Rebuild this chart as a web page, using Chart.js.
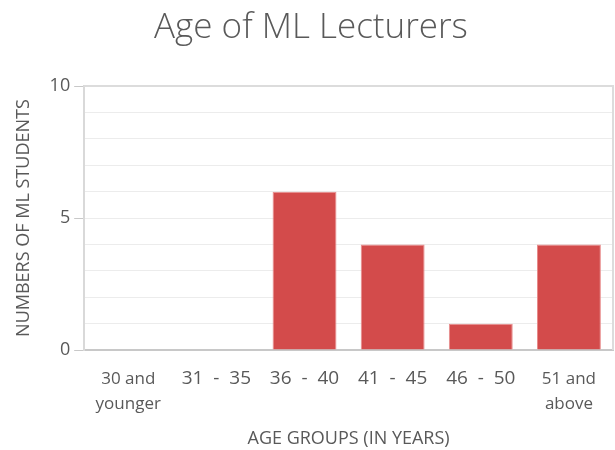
<!DOCTYPE html>
<html>
<head>
<meta charset="utf-8">
<script src="https://cdn.jsdelivr.net/npm/chart.js@4"></script>
<style>
  html, body { margin: 0; padding: 0; background: #fff; }
  #wrap { width: 615px; height: 450px; }
</style>
</head>
<body>
<div id="wrap"><canvas id="ageChart"></canvas></div>
<script>
// datos
const categories = [['30 and', 'younger'], '31  -  35', '36  -  40', '41  -  45', '46  -  50', ['51 and', 'above']];
const lecturers = [0, 0, 6, 4, 1, 4];
const yTickLabels = [0, 5, 10];

const grey = '#595959';
const fontFam = "'Open Sans', 'Liberation Sans', sans-serif";

// marco gris alrededor del area de la grafica
const frame = {
    id: 'frame',
    beforeDatasetsDraw(chart) {
        const a = chart.chartArea;
        const c = chart.ctx;
        c.save();
        c.strokeStyle = '#dcdcdc';
        c.lineWidth = 2;
        c.beginPath();
        c.moveTo(a.left, a.top);
        c.lineTo(a.right, a.top);
        c.lineTo(a.right, a.bottom);
        c.stroke();
        c.restore();
    }
};

const ctx = document.getElementById('ageChart').getContext('2d');
new Chart(ctx, {
    type: 'bar',
    data: {
        labels: categories,
        datasets: [{
            data: lecturers,
            backgroundColor: 'rgb(211, 75, 75)',
            borderColor: 'rgb(232, 140, 140)',
            borderWidth: 1,
            barPercentage: 0.725,
            categoryPercentage: 1
        }]
    },
    options: {
        responsive: true,
        maintainAspectRatio: false,
        animation: false,
        layout: { padding: { left: 9, right: 2, top: 5, bottom: 0 } },
        plugins: {
            legend: { display: false },
            tooltip: { enabled: false },
            title: {
                display: true,
                text: 'Age of ML Lecturers',
                color: grey,
                font: { family: fontFam, size: 35, weight: 300 },
                padding: { top: 2, bottom: 37 }
            }
        },
        scales: {
            x: {
                grid: { display: false },
                border: { color: '#c8c8c8', width: 2 },
                ticks: {
                    color: grey,
                    maxRotation: 0,
                    autoSkip: false,
                    padding: 9,
                    font: function(c) {
                        const multi = Array.isArray(categories[c.index]);
                        return multi ? { family: fontFam, size: 17, lineHeight: 1.45 } : { family: fontFam, size: 19 };
                    }
                },
                title: {
                    display: true,
                    text: 'AGE GROUPS (IN YEARS)',
                    color: grey,
                    font: { family: fontFam, size: 18 },
                    padding: { top: 3, bottom: 0 }
                }
            },
            y: {
                min: 0,
                max: 10,
                ticks: {
                    stepSize: 1,
                    color: grey,
                    padding: 4,
                    font: { family: fontFam, size: 18 },
                    callback: v => yTickLabels.includes(v) ? v : ''
                },
                grid: {
                    color: c => c.tick && (c.tick.value === 0 || c.tick.value === 10) ? 'rgba(0,0,0,0)' : '#ececec',
                    tickColor: c => c.tick && yTickLabels.includes(c.tick.value) ? '#c8c8c8' : 'rgba(0,0,0,0)',
                    tickLength: 10
                },
                border: { color: '#d9d9d9', width: 2 },
                title: {
                    display: true,
                    text: 'NUMBERS OF ML STUDENTS',
                    color: grey,
                    font: { family: fontFam, size: 18 },
                    padding: { bottom: 11 }
                }
            }
        }
    },
    plugins: [frame]
});
</script>
</body>
</html>
